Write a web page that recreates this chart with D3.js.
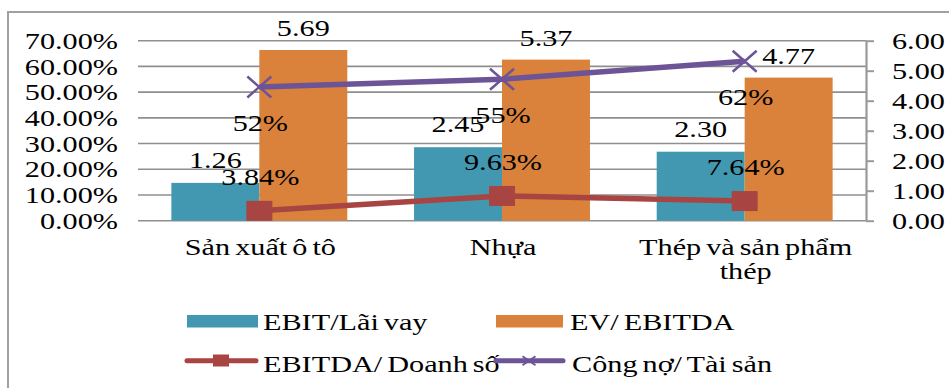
<!DOCTYPE html>
<html>
<head>
<meta charset="utf-8">
<script src="https://cdn.jsdelivr.net/npm/d3@7"></script>
<style>
  body { margin: 0; background: #fff; }
  svg { display: block; }
  text { font-family: "Liberation Serif", "Times New Roman", serif; font-size: 24px; fill: #000; word-spacing: -2px; }
</style>
</head>
<body>
<svg id="chart" width="949" height="388"></svg>
<script>
// Industry categories ("\n" marks where a label wraps)
const categories = ["Sản xuất ô tô", "Nhựa", "Thép và sản phẩm\nthép"];
// Bar series (right axis, times)
const ebitInterest = [1.26, 2.45, 2.30];
const evEbitda = [5.69, 5.37, 4.77];
// Line series (left axis, ratios)
const ebitdaSales = [0.0384, 0.0963, 0.0764];
const debtAssets = [0.52, 0.55, 0.62];
// Axis ticks
const leftTicks = [0, 0.1, 0.2, 0.3, 0.4, 0.5, 0.6, 0.7];
const rightTicks = [0, 1, 2, 3, 4, 5, 6];
// Legend labels
const seriesNames = ["EBIT/Lãi vay", "EV/ EBITDA", "EBITDA/ Doanh số", "Công nợ/ Tài sản"];

const C_TEAL = "#4398b1", C_ORANGE = "#da823b", C_RED = "#a84441", C_PURPLE = "#6c5497";
const SX = 1.26; // horizontal stretch applied to glyphs and markers

const svg = d3.select("#chart");
const plot = { left: 138, right: 866, top: 40.7, bottom: 220.7 };

function stext(sel, x, y, str, anchor) {
  return sel.append("text")
    .attr("transform", `translate(${x},${y}) scale(${SX},1)`)
    .attr("text-anchor", anchor || "start")
    .text(str);
}

// outer frame
svg.append("rect").attr("x", 8).attr("y", 12).attr("width", 960).attr("height", 400)
  .attr("fill", "none").attr("stroke", "#a0a0a0").attr("stroke-width", 2);

const x = d3.scaleBand().domain(categories).range([plot.left, plot.right])
  .paddingInner(0.275).paddingOuter(0.1375);
const xs = d3.scaleBand().domain([0, 1]).range([0, x.bandwidth()]);
const yL = d3.scaleLinear().domain([0, 0.7]).range([plot.bottom, plot.top]);
const yR = d3.scaleLinear().domain([0, 6]).range([plot.bottom, plot.top]);
const cx = c => x(c) + x.bandwidth() / 2;

// horizontal gridlines from the left axis
svg.append("g").selectAll("line").data(leftTicks).join("line")
  .attr("x1", plot.left).attr("x2", plot.right)
  .attr("y1", d => yL(d)).attr("y2", d => yL(d))
  .attr("stroke", "#8f8f8f").attr("stroke-width", 1.6);

// left axis labels
const gL = svg.append("g").attr("transform", `translate(${plot.left},0)`)
  .call(d3.axisLeft(yL).tickValues(leftTicks).tickFormat(d3.format(".2%")).tickSize(0).tickPadding(20));
gL.select(".domain").remove();
gL.attr("font-family", null).attr("font-size", null);
gL.selectAll("text").each(function () {
  const t = d3.select(this);
  const xx = +t.attr("x");
  t.attr("x", 0).attr("dy", "0.32em").attr("transform", `translate(${xx},0) scale(${SX},1)`);
});

// bars
const barSeries = [ebitInterest, evEbitda];
const barColors = [C_TEAL, C_ORANGE];
barSeries.forEach((vals, s) => {
  svg.append("g").selectAll("rect").data(categories).join("rect")
    .attr("x", c => x(c) + xs(s)).attr("width", xs.bandwidth())
    .attr("y", (c, i) => yR(vals[i])).attr("height", (c, i) => yR(0) - yR(vals[i]))
    .attr("fill", barColors[s]);
});

// right axis
const gR = svg.append("g").attr("transform", `translate(${plot.right},0)`)
  .call(d3.axisRight(yR).tickValues(rightTicks).tickFormat(d3.format(".2f")).tickSize(8).tickSizeOuter(0).tickPadding(18));
gR.attr("font-family", null).attr("font-size", null);
gR.select(".domain").attr("stroke", "#999").attr("stroke-width", 2.2);
gR.selectAll(".tick line").attr("stroke", "#999").attr("stroke-width", 2);
gR.selectAll("text").each(function () {
  const t = d3.select(this);
  const xx = +t.attr("x");
  t.attr("x", 0).attr("dy", "0.32em").attr("transform", `translate(${xx},0) scale(${SX},1)`);
});

// lines
const line = d3.line().x(d => d[0]).y(d => d[1]);
const redPts = categories.map((c, i) => [cx(c), yL(ebitdaSales[i])]);
const purplePts = categories.map((c, i) => [cx(c), yL(debtAssets[i])]);
svg.append("path").attr("d", line(redPts)).attr("fill", "none")
  .attr("stroke", C_RED).attr("stroke-width", 5.5);
svg.append("path").attr("d", line(purplePts)).attr("fill", "none")
  .attr("stroke", C_PURPLE).attr("stroke-width", 5.5);

// markers
svg.append("g").selectAll("rect").data(redPts).join("rect")
  .attr("x", d => d[0] - 13).attr("y", d => d[1] - 10)
  .attr("width", 26).attr("height", 20).attr("fill", C_RED);
function xMark(g, px, py, hw, hh, sw) {
  g.append("path").attr("d", `M${px - hw},${py - hh}L${px + hw},${py + hh}M${px - hw},${py + hh}L${px + hw},${py - hh}`)
    .attr("stroke", C_PURPLE).attr("stroke-width", sw).attr("fill", "none");
}
const gx = svg.append("g");
purplePts.forEach(p => xMark(gx, p[0], p[1], 12, 10.5, 2.5));

// data labels
const gLab = svg.append("g");
categories.forEach((c, i) => {
  stext(gLab, x(c) + xs(0) + xs.bandwidth() / 2, yR(ebitInterest[i]) - 15, d3.format(".2f")(ebitInterest[i]), "middle");
  stext(gLab, x(c) + xs(1) + xs.bandwidth() / 2, yR(evEbitda[i]) - 14, d3.format(".2f")(evEbitda[i]), "middle");
  stext(gLab, cx(c) + 1, yL(debtAssets[i]) + 44, d3.format(".0%")(debtAssets[i]), "middle");
  stext(gLab, cx(c) + 1, yL(ebitdaSales[i]) - 26, d3.format(".2%")(ebitdaSales[i]), "middle");
});

// category labels
const gCat = svg.append("g");
categories.forEach(c => {
  c.split("\n").forEach((ln, k) => stext(gCat, cx(c) + 1, 255 + k * 24, ln, "middle"));
});

// legend
const gLeg = svg.append("g");
gLeg.append("rect").attr("x", 187).attr("y", 315).attr("width", 71).attr("height", 12.5).attr("fill", C_TEAL);
stext(gLeg, 263, 330, seriesNames[0]);
gLeg.append("rect").attr("x", 496).attr("y", 315).attr("width", 67).attr("height", 12.5).attr("fill", C_ORANGE);
stext(gLeg, 570, 330, seriesNames[1]);
gLeg.append("line").attr("x1", 187).attr("x2", 256).attr("y1", 360.7).attr("y2", 360.7)
  .attr("stroke", C_RED).attr("stroke-width", 5).attr("stroke-linecap", "round");
gLeg.append("rect").attr("x", 213).attr("y", 354.5).attr("width", 16).attr("height", 12).attr("fill", C_RED);
stext(gLeg, 263, 372, seriesNames[2]);
gLeg.append("line").attr("x1", 496).attr("x2", 563).attr("y1", 360.7).attr("y2", 360.7)
  .attr("stroke", C_PURPLE).attr("stroke-width", 5).attr("stroke-linecap", "round");
xMark(gLeg, 529, 360.7, 6.5, 4.5, 1.8);
stext(gLeg, 572, 372, seriesNames[3]);
</script>
</body>
</html>
